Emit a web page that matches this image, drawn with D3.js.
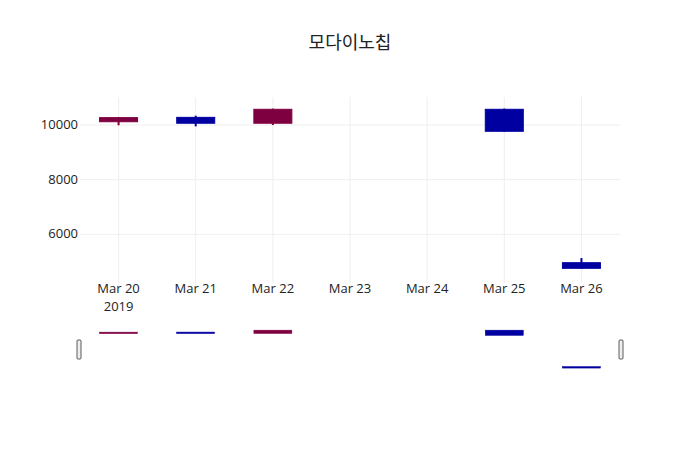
<!DOCTYPE html>
<html>
<head>
<meta charset="utf-8">
<script src="https://cdn.jsdelivr.net/npm/d3@7"></script>
<style>
  body { margin: 0; background: #fff; }
  text { font-family: "Open Sans", "Noto Sans CJK KR", sans-serif; }
</style>
</head>
<body>
<svg id="chart" width="700" height="450"></svg>
<script>
const dates = ["2019-03-20", "2019-03-21", "2019-03-22", "2019-03-25", "2019-03-26"];
const open  = [10120, 10280, 10065, 10575, 4960];
const high  = [10290, 10340, 10600, 10600, 5130];
const low   = [9990, 9950, 10000, 9755, 4740];
const close = [10270, 10065, 10575, 9770, 4755];
const yTicks = [6000, 8000, 10000];

const upColor = "#7f0040";
const downColor = "#0000a0";

const parse = d3.timeParse("%Y-%m-%d");
const rows = dates.map((d, i) => ({
  date: parse(d), open: open[i], high: high[i], low: low[i], close: close[i]
}));

const svg = d3.select("#chart");
const plotL = 80, plotR = 620, plotT = 97, plotB = 283;

const x = d3.scaleTime()
  .domain([new Date(2019, 2, 19, 12), new Date(2019, 2, 26, 12)])
  .range([plotL, plotR]);
const y = d3.scaleLinear().domain([4217, 11025]).range([plotB, plotT]);

svg.append("text")
  .attr("x", 350).attr("y", 49)
  .attr("text-anchor", "middle")
  .attr("font-size", 18).attr("fill", "#222")
  .text("모다이노칩");

// grid
const days = d3.timeDay.range(new Date(2019, 2, 20), new Date(2019, 2, 27));
svg.append("g").selectAll("line").data(days).join("line")
  .attr("x1", d => x(d)).attr("x2", d => x(d))
  .attr("y1", plotT).attr("y2", plotB)
  .attr("stroke", "#eee");
svg.append("g").selectAll("line").data(yTicks).join("line")
  .attr("x1", plotL).attr("x2", plotR)
  .attr("y1", d => y(d)).attr("y2", d => y(d))
  .attr("stroke", "#eee");

// y axis labels
svg.append("g").selectAll("text").data(yTicks).join("text")
  .attr("x", plotL - 2).attr("y", d => y(d) + 4)
  .attr("text-anchor", "end").attr("font-size", 13).attr("fill", "#222")
  .text(d => d);

// x axis labels
const xl = svg.append("g").selectAll("text").data(days).join("text")
  .attr("x", d => x(d)).attr("y", 293)
  .attr("text-anchor", "middle").attr("font-size", 13).attr("fill", "#222");
xl.append("tspan").attr("x", d => x(d)).text(d3.timeFormat("%b %d"));
xl.filter((d, i) => i === 0).append("tspan")
  .attr("x", d => x(d)).attr("dy", 18).text("2019");

const boxW = 38;
function drawCandles(g, ys, wick) {
  const c = g.selectAll("g").data(rows).join("g")
    .attr("fill", d => d.close >= d.open ? upColor : downColor)
    .attr("stroke", d => d.close >= d.open ? upColor : downColor);
  if (wick) {
    c.append("line")
      .attr("x1", d => x(d.date)).attr("x2", d => x(d.date))
      .attr("y1", d => ys(d.high)).attr("y2", d => ys(d.low))
      .attr("stroke-width", 2);
  }
  c.append("rect")
    .attr("x", d => x(d.date) - boxW / 2)
    .attr("width", boxW)
    .attr("y", d => ys(Math.max(d.open, d.close)))
    .attr("height", d => Math.max(1.5, Math.abs(ys(d.open) - ys(d.close))))
    .attr("stroke-width", wick ? 1 : 0.5);
}
drawCandles(svg.append("g"), y, true);

// range slider
const ySlider = d3.scaleLinear().domain([4740, 10600]).range([368, 330]);
drawCandles(svg.append("g"), ySlider, false);
[plotL - 1, plotR + 1].forEach(hx => {
  svg.append("rect")
    .attr("x", hx - 2).attr("y", 340).attr("width", 4).attr("height", 19)
    .attr("rx", 1).attr("fill", "#eee").attr("stroke", "#333").attr("stroke-width", 0.8);
});
</script>
</body>
</html>
